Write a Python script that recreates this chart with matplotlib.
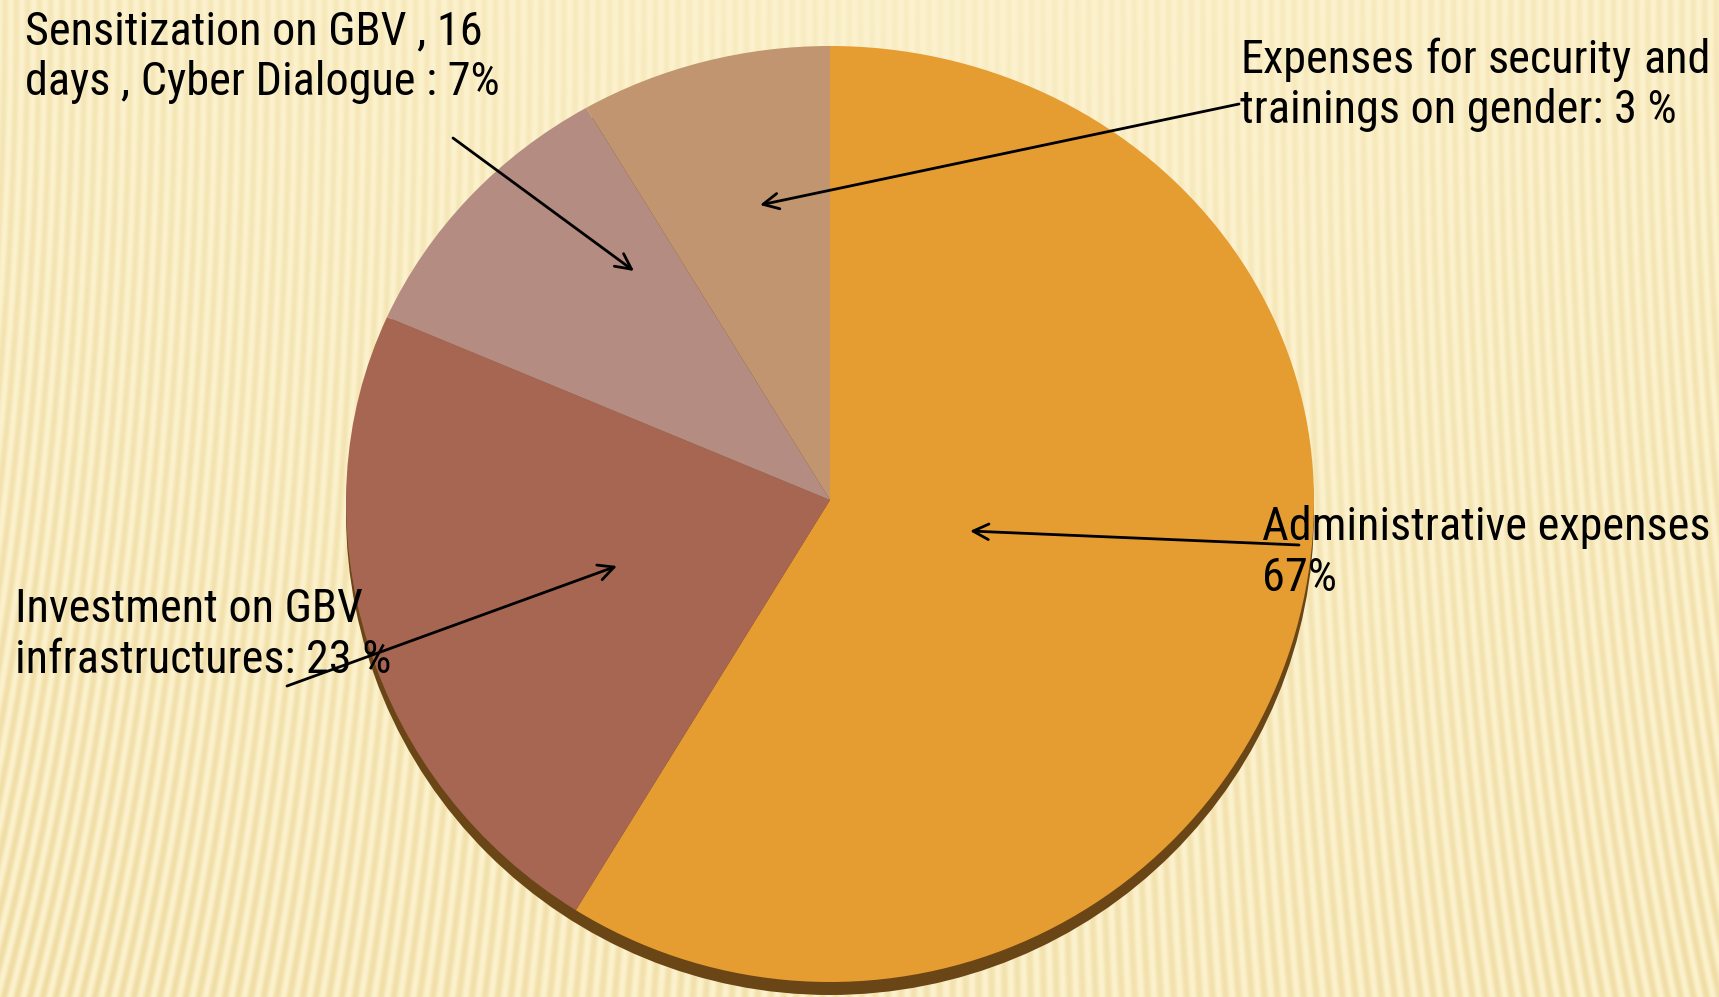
import numpy as np
import matplotlib
matplotlib.use("Agg")
import matplotlib.pyplot as plt
import matplotlib.transforms as mtransforms
from matplotlib.patches import Circle

# ---------------- data ----------------
categories = ["Administrative expenses",
              "Investment on GBV infrastructures",
              "Sensitization on GBV , 16 days , Cyber Dialogue",
              "Expenses for security and trainings on gender"]
shares = [58.8, 22.8, 10.0, 8.4]          # slice sizes as drawn
slice_colors = ["#E59C31", "#A66652", "#B48C82", "#C0956F"]

label_lines = [
    ["Administrative expenses", "67%"],
    ["Investment on GBV", "infrastructures: 23 %"],
    ["Sensitization on GBV , 16", "days , Cyber Dialogue : 7%"],
    ["Expenses for security and", "trainings on gender: 3 %"],
]

# ---------------- layout ----------------
W, H = 1719, 997
CX, CY = 830, 500
RX, RY_TOP, RY_BOT = 484, 454, 482

fig = plt.figure(figsize=(W / 100, H / 100), dpi=100)
ax = fig.add_axes([0, 0, 1, 1])

# decorative striped background
yy, xx = np.mgrid[0:H, 0:W]
phase = (xx + 0.00014 * (H - yy) * (xx - W * 0.55) * (1 + yy / H)) / 13.0
stripe = 0.5 + 0.5 * np.sin(2 * np.pi * phase)
light = np.array([252, 242, 206]) / 255.0
dark = np.array([237, 216, 155]) / 255.0
amp = 0.2 + 0.4 * (yy / H) + 0.45 * np.abs(xx - W * 0.55) / W
mix = np.clip(stripe * amp, 0, 1)[..., None]
bg = light * (1 - mix) + dark * mix
ax.imshow(bg, extent=(0, W, H, 0), zorder=0, aspect="auto", interpolation="bilinear")


class PieSquash(mtransforms.Transform):
    input_dims = 2
    output_dims = 2
    is_separable = False
    has_inverse = False

    def transform_non_affine(self, xy):
        xy = np.asarray(xy, dtype=float)
        x = CX + xy[:, 0] * RX
        y = np.where(xy[:, 1] > 0, CY - xy[:, 1] * RY_TOP, CY - xy[:, 1] * RY_BOT)
        return np.column_stack([x, y])


wedges, _ = ax.pie(shares, colors=slice_colors, startangle=90, counterclock=False,
                   radius=1, center=(0, 0), frame=True,
                   wedgeprops=dict(linewidth=0, antialiased=True))
ax.set_xlim(0, W)
ax.set_ylim(H, 0)
ax.set_aspect("auto")
ax.axis("off")

squash = PieSquash()
for w in wedges:
    w.set_transform(squash + ax.transData)
    w.set_zorder(3)

shadow = Circle((0, 0), 1.0, facecolor="#6A4516", edgecolor="none", zorder=2)
shadow.set_transform(squash + mtransforms.Affine2D().translate(0, 13) + ax.transData)
ax.add_patch(shadow)

# ---------------- labels ----------------
family = ["Roboto Condensed", "Liberation Sans Narrow", "Arial Narrow", "Roboto",
          "Liberation Sans", "DejaVu Sans"]
renderer = fig.canvas.get_renderer()

# fit font size so the first label line spans its width in the reference
probe = ax.text(0, 0, label_lines[2][0], family=family, fontsize=30)
pw = probe.get_window_extent(renderer).width
probe.remove()
fsize = min(34.5, 30 * 457.0 / pw)
font = dict(family=family, fontsize=fsize, color="black")

label_pos = [(1262, 540), (15, 622), (25, 44), (1240, 73)]
line_gap = 50.5
for k, (lines, (lx, ly)) in enumerate(zip(label_lines, label_pos)):
    for i, line in enumerate(lines):
        if k == 3 and i == 0:
            # justified first line, right edge at x = 1711
            words = line.split()
            widths = []
            for wd in words:
                t = ax.text(0, 0, wd, **font)
                widths.append(t.get_window_extent(renderer).width)
                t.remove()
            gap = (1711 - lx - sum(widths)) / (len(words) - 1)
            x = lx
            for wd, wpx in zip(words, widths):
                ax.text(x, ly, wd, ha="left", va="baseline", zorder=6, **font)
                x += wpx + gap
        else:
            ax.text(lx, ly + i * line_gap, line, ha="left", va="baseline", zorder=6, **font)

# ---------------- arrows ----------------
arrows = [((1299, 545), (970, 531)),
          ((287, 686), (617, 566)),
          ((453, 138), (634, 271)),
          ((1239, 104), (760, 205))]
for tail, head in arrows:
    ax.annotate("", xy=head, xytext=tail, zorder=5,
                arrowprops=dict(arrowstyle="->", lw=2.0, color="black",
                                mutation_scale=28, shrinkA=0, shrinkB=0))

fig.savefig("out.png", dpi=100)
